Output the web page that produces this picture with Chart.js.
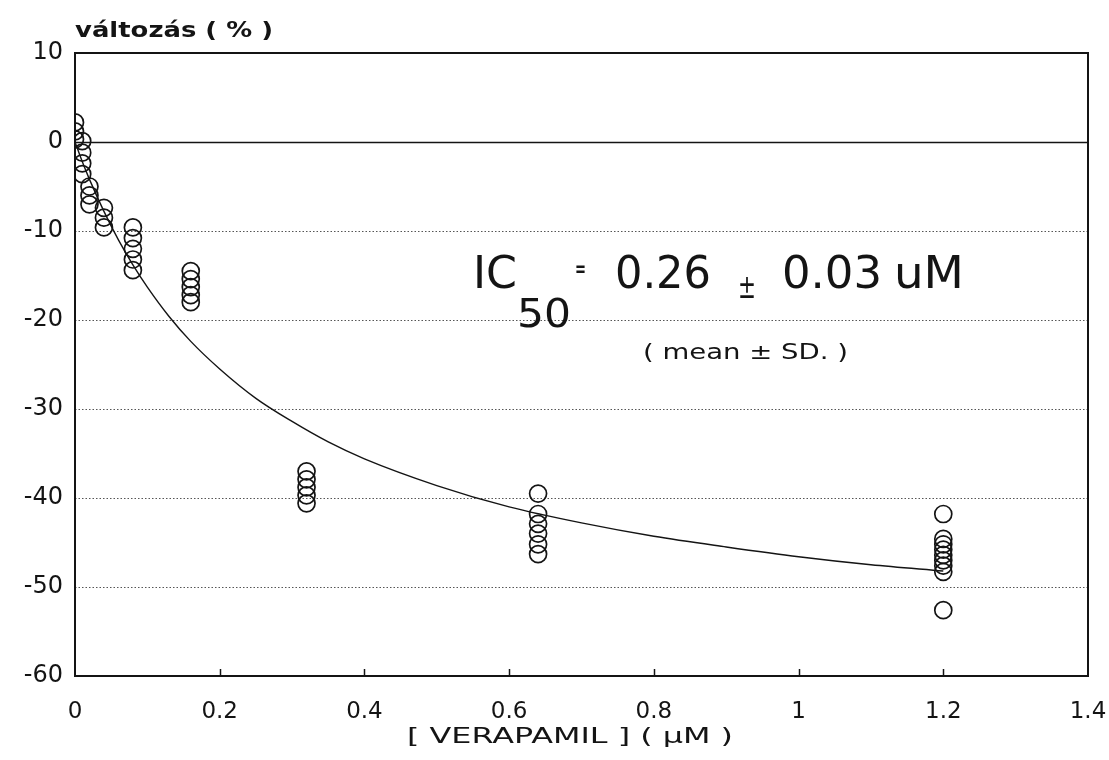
<!DOCTYPE html>
<html>
<head>
<meta charset="utf-8">
<script src="https://cdn.jsdelivr.net/npm/chart.js@4.4.1/dist/chart.umd.min.js"></script>
<style>
  html, body { margin: 0; padding: 0; background: #ffffff; }
  #wrap { width: 1109px; height: 760px; }
</style>
</head>
<body>
<div id="wrap"><canvas id="c" width="1109" height="760"></canvas></div>
<script>
// Verapamil concentrations (µM) and the measured changes (%) at each one
const doses = [0, 0.01, 0.02, 0.04, 0.08, 0.16, 0.32, 0.64, 1.2];
const resp000 = [2.2, 1.2, 0.3];
const resp001 = [0.1, -1.2, -2.4, -3.6];
const resp002 = [-5.0, -6.0, -7.0];
const resp004 = [-7.4, -8.5, -9.6];
const resp008 = [-9.6, -10.8, -12.0, -13.2, -14.4];
const resp016 = [-14.5, -15.4, -16.3, -17.2, -18.0];
const resp032 = [-37.0, -37.9, -38.8, -39.7, -40.6];
const resp064 = [-39.5, -41.8, -42.9, -44.0, -45.2, -46.3];
const resp120 = [-41.8, -44.6, -45.2, -45.8, -46.4, -47.0, -47.6, -48.3, -52.6];
const responses = [resp000, resp001, resp002, resp004, resp008, resp016, resp032, resp064, resp120];

// Fitted inhibition curve, read along its drawn path
const curveX = [0, 0.01, 0.02, 0.04, 0.06, 0.08, 0.10, 0.13, 0.16, 0.20, 0.25, 0.30, 0.35, 0.40, 0.50, 0.60, 0.70, 0.80, 0.90, 1.00, 1.10, 1.20];
const curveY = [0, -2.2, -4.2, -7.8, -11.0, -13.8, -16.3, -19.6, -22.4, -25.5, -28.8, -31.4, -33.7, -35.6, -38.6, -41.0, -42.8, -44.3, -45.5, -46.6, -47.5, -48.2];

// Axis ticks
const xTicks = [0, 0.2, 0.4, 0.6, 0.8, 1, 1.2, 1.4];
const yTicks = [10, 0, -10, -20, -30, -40, -50, -60];

const yTitle = 'változás ( % )';
const xTitle = '[ VERAPAMIL ] ( µM )';

const ink = '#141414';
const FONT = '"DejaVu Sans", "Liberation Sans", Arial, sans-serif';

const points = [];
doses.forEach((d, i) => responses[i].forEach(v => points.push({ x: d, y: v })));
const curve = curveX.map((x, i) => ({ x, y: curveY[i] }));

// draws text starting at x, widened horizontally to the given width
function drawWide(ctx, text, x, y, width) {
  const w = ctx.measureText(text).width;
  ctx.save();
  ctx.translate(x, y);
  ctx.scale(width / w, 1);
  ctx.textAlign = 'left';
  ctx.fillText(text, 0, 0);
  ctx.restore();
}

const framePlugin = {
  id: 'frame',
  beforeDatasetsDraw(chart) {
    const { ctx, chartArea: a, scales: { y } } = chart;
    ctx.save();
    yTicks.forEach(v => {
      if (v <= y.min || v >= y.max) return;
      const py = Math.round(y.getPixelForValue(v)) + 0.5;
      ctx.beginPath();
      if (v === 0) {
        ctx.setLineDash([]);
        ctx.lineWidth = 1.6;
        ctx.strokeStyle = ink;
      } else {
        ctx.setLineDash([1.5, 2]);
        ctx.lineWidth = 1;
        ctx.strokeStyle = '#555';
      }
      ctx.moveTo(a.left, py);
      ctx.lineTo(a.right, py);
      ctx.stroke();
    });
    ctx.restore();
  },
  afterDatasetsDraw(chart) {
    const { ctx, chartArea: a, scales: { x, y } } = chart;
    ctx.save();
    // plot frame
    ctx.setLineDash([]);
    ctx.strokeStyle = ink;
    ctx.lineWidth = 2;
    ctx.strokeRect(a.left, a.top, a.right - a.left, a.bottom - a.top);
    // short inward tick marks on the x axis
    ctx.lineWidth = 1.5;
    xTicks.forEach(v => {
      if (v <= x.min || v >= x.max) return;
      const px = Math.round(x.getPixelForValue(v)) + 0.5;
      ctx.beginPath();
      ctx.moveTo(px, a.bottom);
      ctx.lineTo(px, a.bottom - 7);
      ctx.stroke();
    });

    ctx.fillStyle = ink;
    ctx.textBaseline = 'alphabetic';

    // y axis title above the frame
    ctx.font = 'bold 22px ' + FONT;
    drawWide(ctx, yTitle, a.left, a.top - 16, 198);

    // x axis title
    ctx.font = '22px ' + FONT;
    drawWide(ctx, xTitle, 407, a.bottom + 67, 326);

    // IC50 annotation
    const ax = x.getPixelForValue(0.55);
    const base = y.getPixelForValue(-16.4);
    ctx.font = '45px ' + FONT;
    drawWide(ctx, 'IC', ax, base, 44);
    ctx.font = '39px ' + FONT;
    drawWide(ctx, '50', ax + 44, base + 39, 54);
    ctx.font = 'bold 22px ' + FONT;
    drawWide(ctx, '=', ax + 102, base - 12, 11);
    ctx.font = '45px ' + FONT;
    drawWide(ctx, '0.26', ax + 142, base, 96);
    ctx.font = '34px ' + FONT;
    drawWide(ctx, '±', ax + 265, base + 10, 18);
    ctx.font = '45px ' + FONT;
    drawWide(ctx, '0.03', ax + 309, base, 100);
    drawWide(ctx, 'uM', ax + 421, base, 70);

    ctx.font = '22px ' + FONT;
    drawWide(ctx, '( mean ± SD. )', ax + 170, base + 71, 205);
    ctx.restore();
  }
};

new Chart(document.getElementById('c'), {
  type: 'scatter',
  data: {
    datasets: [
      {
        label: 'fit',
        data: curve,
        showLine: true,
        borderColor: ink,
        borderWidth: 1.4,
        pointRadius: 0,
        cubicInterpolationMode: 'monotone',
        fill: false,
        order: 2
      },
      {
        label: 'measured',
        data: points,
        pointStyle: 'circle',
        pointRadius: 8.5,
        pointBorderWidth: 1.7,
        pointBackgroundColor: 'rgba(0,0,0,0)',
        pointBorderColor: ink,
        showLine: false,
        order: 1
      }
    ]
  },
  options: {
    responsive: false,
    animation: false,
    devicePixelRatio: 1,
    layout: { padding: { top: 53, right: 21, left: 0, bottom: 0 } },
    plugins: { legend: { display: false }, tooltip: { enabled: false }, title: { display: false } },
    scales: {
      x: {
        type: 'linear',
        min: 0, max: 1.4,
        afterBuildTicks(scale) { scale.ticks = xTicks.map(v => ({ value: v })); },
        afterFit(scale) { scale.height = 84; scale.paddingRight = 0; scale.paddingLeft = 0; },
        grid: { display: false, drawTicks: false },
        border: { display: false },
        ticks: {
          color: ink,
          font: { family: FONT, size: 23 },
          padding: 22,
          maxRotation: 0,
          autoSkip: false,
          callback: v => String(v)
        }
      },
      y: {
        type: 'linear',
        min: -60, max: 10,
        afterBuildTicks(scale) { scale.ticks = yTicks.map(v => ({ value: v })); },
        afterFit(scale) { scale.width = 75; scale.paddingTop = 0; scale.paddingBottom = 0; },
        grid: { display: false, drawTicks: false },
        border: { display: false },
        ticks: {
          color: ink,
          font: { family: FONT, size: 24 },
          padding: 12,
          autoSkip: false,
          callback: v => String(v)
        }
      }
    }
  },
  plugins: [framePlugin]
});
</script>
</body>
</html>
